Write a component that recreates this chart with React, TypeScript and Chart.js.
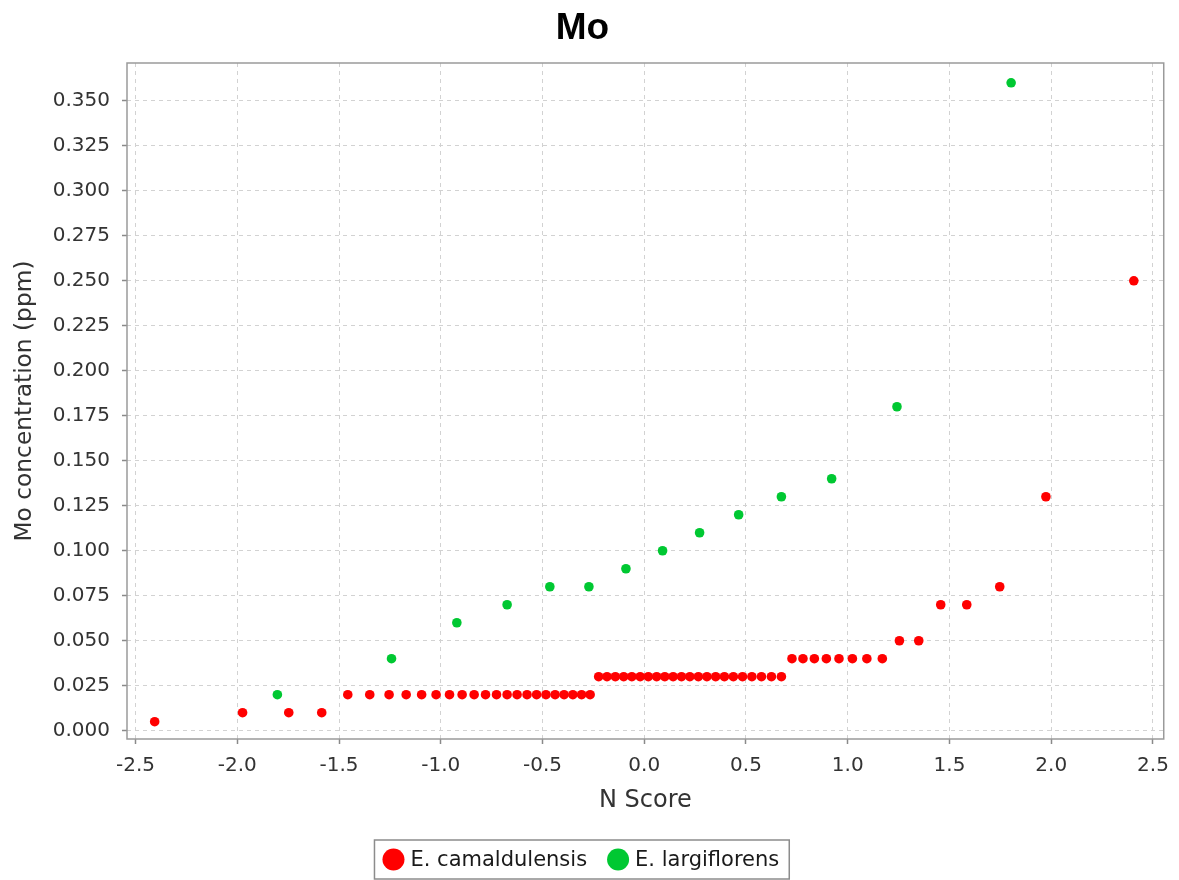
import React, { useEffect, useRef } from 'react';
import { Chart, registerables } from 'chart.js';

Chart.register(...registerables);

// Normal scores (x) and Mo concentrations in ppm (y) per species
const camaldulensisScores = [
  -2.406, -1.974, -1.747, -1.585, -1.457, -1.349, -1.254, -1.170, -1.094, -1.023,
  -0.957, -0.895, -0.836, -0.780, -0.726, -0.674, -0.625, -0.576, -0.529, -0.483,
  -0.438, -0.394, -0.351, -0.308, -0.266, -0.224, -0.183, -0.142, -0.101, -0.061,
  -0.020, 0.020, 0.061, 0.101, 0.142, 0.183, 0.224, 0.266, 0.308, 0.351,
  0.394, 0.438, 0.483, 0.529, 0.576, 0.625, 0.674, 0.726, 0.780, 0.836,
  0.895, 0.957, 1.023, 1.094, 1.170, 1.254, 1.349, 1.457, 1.585, 1.747,
  1.974, 2.406,
];
const camaldulensisMo = [
  0.005, 0.01, 0.01, 0.01, 0.02, 0.02, 0.02, 0.02, 0.02, 0.02,
  0.02, 0.02, 0.02, 0.02, 0.02, 0.02, 0.02, 0.02, 0.02, 0.02,
  0.02, 0.02, 0.02, 0.02, 0.02, 0.03, 0.03, 0.03, 0.03, 0.03,
  0.03, 0.03, 0.03, 0.03, 0.03, 0.03, 0.03, 0.03, 0.03, 0.03,
  0.03, 0.03, 0.03, 0.03, 0.03, 0.03, 0.03, 0.04, 0.04, 0.04,
  0.04, 0.04, 0.04, 0.04, 0.04, 0.05, 0.05, 0.07, 0.07, 0.08,
  0.13, 0.25,
];
const largiflorensScores = [
  -1.803, -1.242, -0.921, -0.674, -0.464, -0.272, -0.090,
  0.090, 0.272, 0.464, 0.674, 0.921, 1.242, 1.803,
];
const largiflorensMo = [
  0.02, 0.04, 0.06, 0.07, 0.08, 0.08, 0.09,
  0.10, 0.11, 0.12, 0.13, 0.14, 0.18, 0.36,
];

const seriesNames = ['E. camaldulensis', 'E. largiflorens'];
const xTickValues = [-2.5, -2.0, -1.5, -1.0, -0.5, 0.0, 0.5, 1.0, 1.5, 2.0, 2.5];
const yTickValues = [
  0.0, 0.025, 0.05, 0.075, 0.1, 0.125, 0.15, 0.175, 0.2, 0.225,
  0.25, 0.275, 0.3, 0.325, 0.35,
];

const RED = '#ff0000';
const GREEN = '#00c832';
const seriesColors = [RED, GREEN];
const FONT = '"DejaVu Sans", "Liberation Sans", sans-serif';

const toPoints = (xs: number[], ys: number[]) => xs.map((x, i) => ({ x, y: ys[i] }));

// Grey frame around the plotting area
const plotFrame = {
  id: 'plotFrame',
  beforeDatasetsDraw(chart: any) {
    const { ctx, chartArea } = chart;
    ctx.save();
    ctx.strokeStyle = '#9a9a9a';
    ctx.lineWidth = 1.5;
    ctx.strokeRect(chartArea.left, chartArea.top, chartArea.right - chartArea.left, chartArea.bottom - chartArea.top);
    ctx.restore();
  },
};

// Boxed legend centred under the axis title
const boxedLegend = {
  id: 'boxedLegend',
  afterDraw(chart: any) {
    const { ctx } = chart;
    ctx.save();
    ctx.font = `21px ${FONT}`;
    const widths = seriesNames.map((n) => ctx.measureText(n).width);
    const r = 11;
    const lead = 8;
    const textGap = 6;
    const itemGap = 20;
    const tail = 10;
    const total = lead + widths.reduce((s, w) => s + 2 * r + textGap + w, 0) + itemGap * (seriesNames.length - 1) + tail;
    const centre = chart.chartArea.right / 2;
    const top = chart.height - 40;
    const h = 39;
    const left = centre - total / 2;
    ctx.strokeStyle = '#8c8c8c';
    ctx.lineWidth = 1.5;
    ctx.strokeRect(left, top, total, h);
    let x = left + lead;
    const cy = top + h / 2;
    seriesNames.forEach((name, i) => {
      ctx.fillStyle = seriesColors[i];
      ctx.beginPath();
      ctx.arc(x + r, cy, r, 0, Math.PI * 2);
      ctx.fill();
      x += 2 * r + textGap;
      ctx.fillStyle = '#1a1a1a';
      ctx.textBaseline = 'middle';
      ctx.textAlign = 'left';
      ctx.fillText(name, x, cy + 1);
      x += widths[i] + itemGap;
    });
    ctx.restore();
  },
};

export default function App() {
  const canvasRef = useRef<HTMLCanvasElement | null>(null);

  useEffect(() => {
    if (!canvasRef.current) return;
    const chart = new Chart(canvasRef.current, {
      type: 'scatter',
      data: {
        datasets: [
          {
            label: seriesNames[0],
            data: toPoints(camaldulensisScores, camaldulensisMo),
            backgroundColor: RED,
            borderWidth: 0,
            pointRadius: 4.8,
          },
          {
            label: seriesNames[1],
            data: toPoints(largiflorensScores, largiflorensMo),
            backgroundColor: GREEN,
            borderWidth: 0,
            pointRadius: 4.8,
          },
        ],
      },
      options: {
        animation: false,
        responsive: false,
        layout: { padding: { left: 0, right: 14, top: 0, bottom: 56 } },
        plugins: {
          legend: { display: false },
          tooltip: { enabled: false },
          title: {
            display: true,
            text: 'Mo',
            color: '#000',
            font: { family: '"Liberation Sans", Arial, sans-serif', size: 37, weight: 'bold' },
            padding: { top: 7, bottom: 11.6 },
          },
        },
        scales: {
          x: {
            type: 'linear',
            min: -2.542,
            max: 2.553,
            afterBuildTicks: (scale: any) => {
              scale.ticks = xTickValues.map((value) => ({ value }));
            },
            afterFit: (scale: any) => {
              scale.height = 85;
            },
            ticks: {
              color: '#333',
              padding: 10,
              font: { family: FONT, size: 20 },
              callback: (v: any) => Number(v).toFixed(1),
            },
            grid: {
              color: '#d2d2d2',
              lineWidth: 1,
              tickColor: '#8a8a8a',
              tickLength: 5,
              tickWidth: 1.5,
              tickBorderDash: [],
            },
            border: { display: false, dash: [4, 4] },
            title: {
              display: true,
              text: 'N Score',
              color: '#333',
              font: { family: FONT, size: 24 },
              padding: { top: 0, bottom: 9 },
            },
          },
          y: {
            type: 'linear',
            min: -0.0046,
            max: 0.371,
            afterBuildTicks: (scale: any) => {
              scale.ticks = yTickValues.map((value) => ({ value }));
            },
            afterFit: (scale: any) => {
              scale.width = 127;
            },
            ticks: {
              color: '#333',
              padding: 12,
              font: { family: FONT, size: 20 },
              callback: (v: any) => Number(v).toFixed(3),
            },
            grid: {
              color: '#d2d2d2',
              lineWidth: 1,
              tickColor: '#8a8a8a',
              tickLength: 5,
              tickWidth: 1.5,
              tickBorderDash: [],
            },
            border: { display: false, dash: [4, 4] },
            title: {
              display: true,
              text: 'Mo concentration (ppm)',
              color: '#333',
              font: { family: FONT, size: 23.3 },
              padding: { top: 11, bottom: 0 },
            },
          },
        },
      },
      plugins: [plotFrame, boxedLegend],
    } as any);
    return () => chart.destroy();
  }, []);

  return (
    <div style={{ position: 'absolute', left: 0, top: 0, width: 1179, height: 880, background: '#fff' }}>
      <canvas ref={canvasRef} width={1179} height={880} />
    </div>
  );
}
